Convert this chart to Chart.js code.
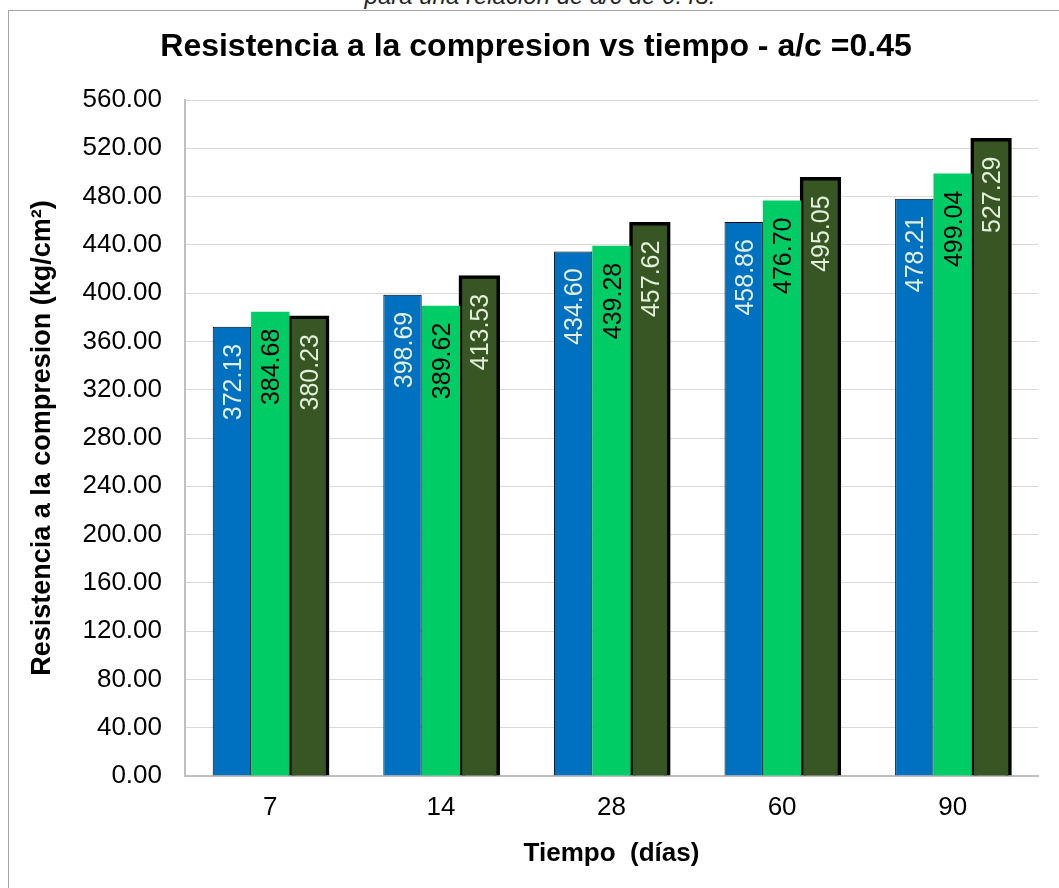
<!DOCTYPE html>
<html lang="es">
<head>
<meta charset="utf-8">
<title>Resistencia a la compresion vs tiempo</title>
<script src="https://cdn.jsdelivr.net/npm/chart.js@4/dist/chart.umd.min.js"></script>
<style>
  html, body { margin: 0; padding: 0; background: #ffffff; overflow: hidden; }
  #wrap { position: relative; width: 1059px; height: 888px; }
  #caption {
    position: absolute; left: 0; top: -16px; width: 1080px;
    text-align: center; font: italic 24px/24px "Liberation Sans", Arial, sans-serif;
    color: #262626; white-space: nowrap;
  }
  #frame {
    position: absolute; left: 8px; top: 10px; width: 1100px; height: 1000px;
    border: 1px solid #a6a6a6; box-sizing: border-box;
  }
  #chart { position: absolute; left: 0; top: 0; }
</style>
</head>
<body>
<div id="wrap">
  <div id="caption">para una relación de a/c de 0.45.</div>
  <div id="frame"></div>
  <canvas id="chart" width="1059" height="888"></canvas>
</div>
<script>
// Curing age (days) on the category axis
const categories = ['7', '14', '28', '60', '90'];

// Compressive strength per specimen series (kg/cm²)
const serieA = [372.13, 398.69, 434.60, 458.86, 478.21];
const serieB = [384.68, 389.62, 439.28, 476.70, 499.04];
const serieC = [380.23, 413.53, 457.62, 495.05, 527.29];

// Value axis range and step
const yMin = 0;
const yMax = 560;
const yStep = 40;

const chartTitle = 'Resistencia a la compresion vs tiempo - a/c =0.45';
const yTitle = 'Resistencia a la compresion (kg/cm²)';
const xTitle = 'Tiempo  (días)';

const FONT = '"Liberation Sans", Arial, sans-serif';
const labelColors = ['#E2EFDA', '#000000', '#E2EFDA'];

// Writes each value vertically inside the top end of its bar
const barValueLabels = {
  id: 'barValueLabels',
  afterDatasetsDraw(chart) {
    const ctx = chart.ctx;
    const size = 25;
    chart.data.datasets.forEach((ds, i) => {
      const meta = chart.getDatasetMeta(i);
      meta.data.forEach((bar, j) => {
        const v = ds.data[j];
        ctx.save();
        ctx.translate(bar.x, bar.y + 17);
        ctx.rotate(-Math.PI / 2);
        ctx.font = size + 'px ' + FONT;
        ctx.fillStyle = labelColors[i];
        ctx.textAlign = 'right';
        ctx.textBaseline = 'alphabetic';
        ctx.fillText(v.toFixed(2), 0, size * 0.36);
        ctx.restore();
      });
    });
  }
};

new Chart(document.getElementById('chart'), {
  type: 'bar',
  data: {
    labels: categories,
    datasets: [
      { label: 'Serie 1', data: serieA, backgroundColor: '#0070C0', borderColor: '#000000', borderWidth: 1, inflateAmount: 0 },
      { label: 'Serie 2', data: serieB, backgroundColor: '#00CC66', borderWidth: 0, inflateAmount: 0 },
      { label: 'Serie 3', data: serieC, backgroundColor: '#375623', borderColor: '#000000', borderWidth: 3.5, inflateAmount: 1.5 }
    ]
  },
  options: {
    responsive: false,
    devicePixelRatio: 1,
    animation: false,
    categoryPercentage: 0.675,
    barPercentage: 1,
    layout: { padding: { left: 34, right: 21, top: 0, bottom: 0 } },
    plugins: {
      legend: { display: false },
      tooltip: { enabled: false },
      title: {
        display: true,
        text: chartTitle,
        color: '#000000',
        font: { family: FONT, size: 32, weight: 'bold' },
        padding: { top: 28, bottom: 33.6 }
      }
    },
    scales: {
      x: {
        afterFit(scale) { scale.height = 112; },
        grid: { display: false, drawTicks: false },
        border: { display: true, color: '#bfbfbf', width: 2 },
        ticks: { color: '#000000', font: { family: FONT, size: 26 }, padding: 16 },
        title: {
          display: true, text: xTitle, color: '#000000',
          font: { family: FONT, size: 26, weight: 'bold' },
          padding: { top: 0, bottom: 18.4 }
        }
      },
      y: {
        min: yMin,
        max: yMax,
        afterFit(scale) { scale.width = 151; },
        grid: { color: '#d9d9d9', lineWidth: 1, drawTicks: false },
        border: { display: true, color: '#bfbfbf', width: 2 },
        ticks: {
          stepSize: yStep,
          color: '#000000',
          font: { family: FONT, size: 26 },
          padding: 23,
          callback: v => Number(v).toFixed(2)
        },
        title: {
          display: true, text: yTitle, color: '#000000',
          font: { family: FONT, size: 27, weight: 'bold' },
          padding: { top: -8, bottom: 0 }
        }
      }
    }
  },
  plugins: [barValueLabels]
});
</script>
</body>
</html>
